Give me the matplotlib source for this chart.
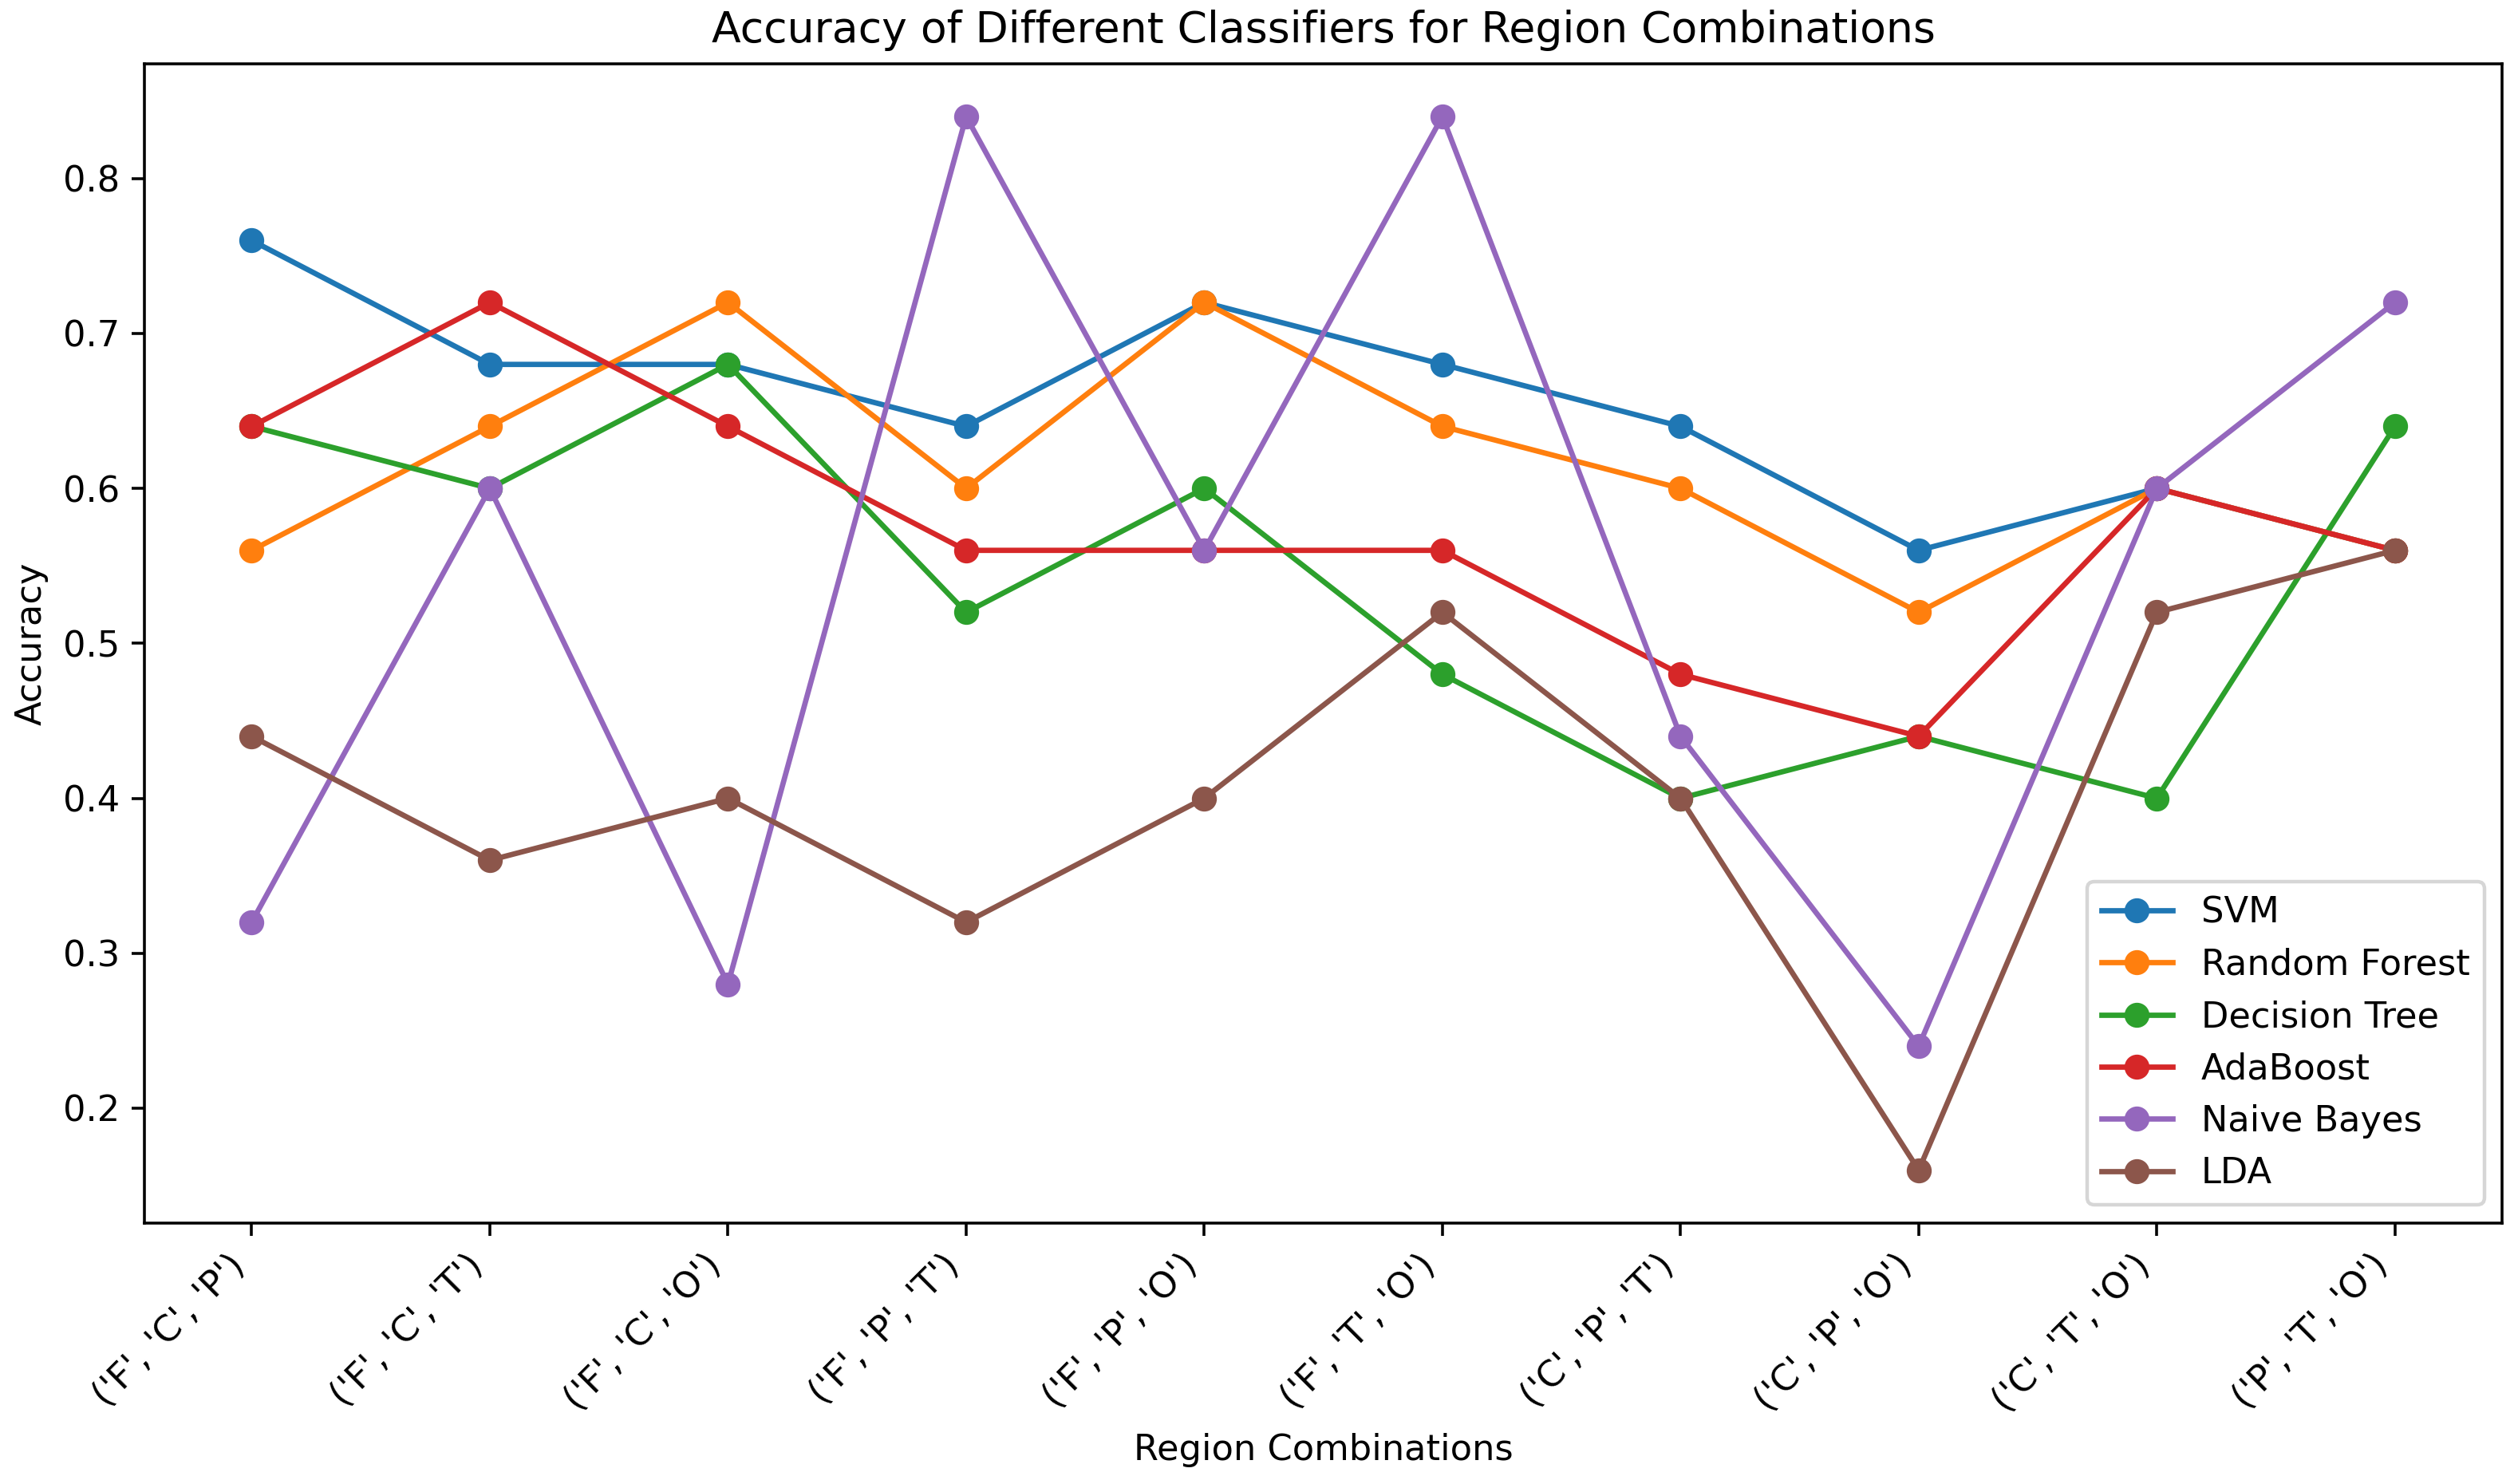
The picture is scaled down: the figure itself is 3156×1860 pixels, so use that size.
import matplotlib
matplotlib.use("Agg")
import matplotlib.pyplot as plt

combos = ["('F', 'C', 'P')", "('F', 'C', 'T')", "('F', 'C', 'O')", "('F', 'P', 'T')",
          "('F', 'P', 'O')", "('F', 'T', 'O')", "('C', 'P', 'T')", "('C', 'P', 'O')",
          "('C', 'T', 'O')", "('P', 'T', 'O')"]

svm = [0.76, 0.68, 0.68, 0.64, 0.72, 0.68, 0.64, 0.56, 0.60, 0.56]
random_forest = [0.56, 0.64, 0.72, 0.60, 0.72, 0.64, 0.60, 0.52, 0.60, 0.56]
decision_tree = [0.64, 0.60, 0.68, 0.52, 0.60, 0.48, 0.40, 0.44, 0.40, 0.64]
adaboost = [0.64, 0.72, 0.64, 0.56, 0.56, 0.56, 0.48, 0.44, 0.60, 0.56]
naive_bayes = [0.32, 0.60, 0.28, 0.84, 0.56, 0.84, 0.44, 0.24, 0.60, 0.72]
lda = [0.44, 0.36, 0.40, 0.32, 0.40, 0.52, 0.40, 0.16, 0.52, 0.56]

series = [("SVM", svm), ("Random Forest", random_forest), ("Decision Tree", decision_tree),
          ("AdaBoost", adaboost), ("Naive Bayes", naive_bayes), ("LDA", lda)]

dpi = 322
fig = plt.figure(figsize=(3156 / dpi, 1860 / dpi), dpi=dpi)
ax = fig.add_axes([0.0574, 0.176, 0.9363, 0.781])

x = list(range(len(combos)))
for name, vals in series:
    ax.plot(x, vals, marker='o', label=name)

ax.set_xticks(x)
ax.set_xticklabels(combos, rotation=45, ha='right')
ax.set_xlabel("Region Combinations")
ax.set_ylabel("Accuracy")
ax.set_title("Accuracy of Different Classifiers for Region Combinations")
ax.legend(loc='lower right')

fig.savefig("out.png", dpi=dpi)
